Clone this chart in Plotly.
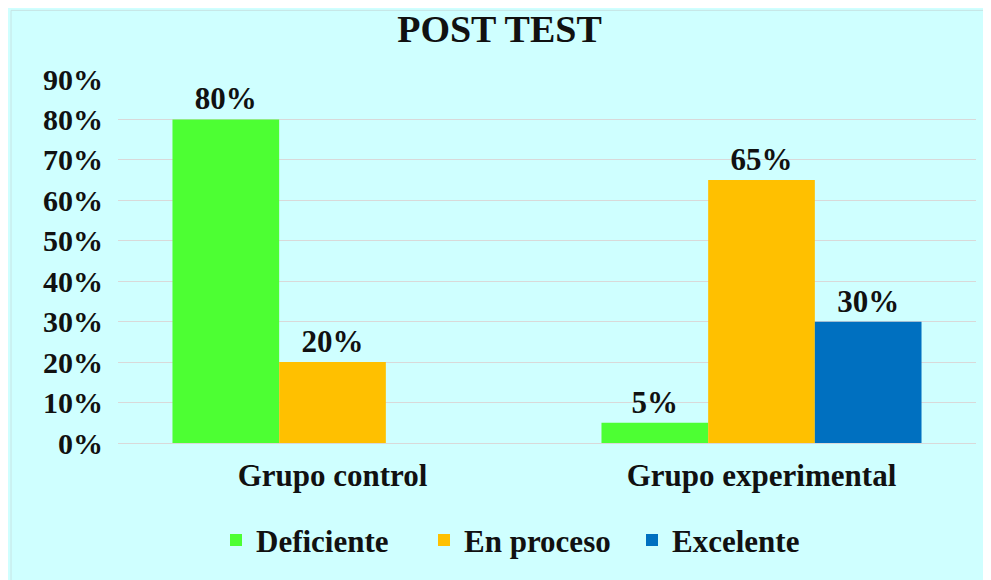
import plotly.graph_objects as go

categories = ["Grupo control", "Grupo experimental"]
series_names = ["Deficiente", "En proceso", "Excelente"]
deficiente = [0.80, 0.05]
en_proceso = [0.20, 0.65]
excelente = [0.00, 0.30]
colors = ["#4dff33", "#ffc000", "#0070c0"]
y_ticks = [0, 0.1, 0.2, 0.3, 0.4, 0.5, 0.6, 0.7, 0.8, 0.9]
y_tick_labels = ["0%", "10%", "20%", "30%", "40%", "50%", "60%", "70%", "80%", "90%"]

FONT = "Liberation Serif, Times New Roman, serif"
OFF = 8  # page body margin offset

W, H = 991 - OFF, 580 - OFF
L, R_EDGE, T, B_EDGE = 118 - OFF, 976 - OFF, 79 - OFF, 445 - OFF
PW, PH = R_EDGE - L, B_EDGE - T

fig = go.Figure()
for name, vals, col in zip(series_names, [deficiente, en_proceso, excelente], colors):
    fig.add_trace(go.Bar(
        x=categories, y=vals, name=name,
        marker=dict(color=col, line=dict(width=0)),
        text=[f"{round(v*100)}%" if v > 0 else "" for v in vals],
        textposition="outside",
        textfont=dict(family=FONT, size=31, color="#111111", weight="bold"),
        cliponaxis=False,
    ))

fig.add_shape(type="rect", xref="paper", yref="paper",
              x0=(11 - OFF - L) / PW, x1=1.2, y0=-0.8, y1=(B_EDGE - (10 - OFF)) / PH,
              fillcolor="#cfffff", line=dict(color="#c6e4e4", width=1),
              layer="below")

fig.update_layout(
    width=W, height=H,
    margin=dict(l=L, r=W - R_EDGE, t=T, b=H - B_EDGE),
    paper_bgcolor="#cfffff",
    plot_bgcolor="rgba(0,0,0,0)",
    barmode="group", bargap=0.254, bargroupgap=0,
    font=dict(family=FONT, color="#111111"),
    title=dict(text="POST TEST", x=0.5, xref="container", xanchor="center",
               y=1 - (29 - OFF) / H, yref="container", yanchor="middle",
               font=dict(family=FONT, size=38, color="#111111", weight="bold")),
    legend=dict(orientation="h", x=(528 - OFF - L) / PW, xanchor="center",
                y=(B_EDGE - (543 - OFF)) / PH, yanchor="middle",
                font=dict(family=FONT, size=31, color="#111111", weight="bold"),
                bgcolor="rgba(0,0,0,0)", entrywidth=163, entrywidthmode="pixels"),
    showlegend=True,
    xaxis=dict(showgrid=False, showline=False, zeroline=False, ticks="",
               tickfont=dict(family=FONT, size=31, color="#111111", weight="bold"),
               ticklabelstandoff=11),
    yaxis=dict(range=[0, 0.9], tickvals=y_ticks, ticktext=y_tick_labels,
               showgrid=True, gridcolor="#d9d9d9", gridwidth=1,
               zeroline=True, zerolinecolor="#d9d9d9", zerolinewidth=1,
               showline=False, ticks="", ticklabelstandoff=14,
               tickfont=dict(family=FONT, size=30, color="#111111", weight="bold")),
)

fig.write_html("out.html")
